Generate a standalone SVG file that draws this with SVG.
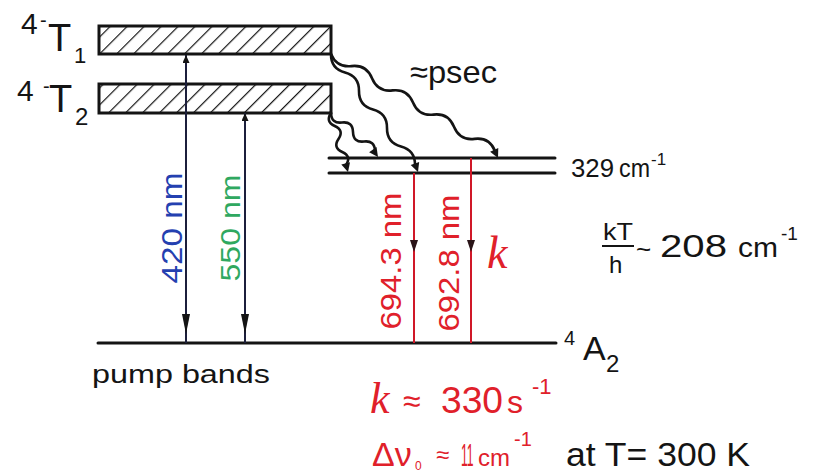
<svg xmlns="http://www.w3.org/2000/svg" xmlns:xlink="http://www.w3.org/1999/xlink" width="823" height="473" viewBox="0 0 823 473">
<style>
  .lvl{stroke:#141414;stroke-width:3;fill:none;stroke-linecap:round}
  .box{stroke:#141414;stroke-width:3;fill:url(#hatch)}
  .wave{stroke:#141414;stroke-width:2.6;fill:none;stroke-linecap:round}
  .pump{stroke:#1c1f3c;stroke-width:2;fill:none}
  .red{stroke:#d01828;stroke-width:2;fill:none}
  .t{font-family:"Liberation Sans","DejaVu Sans",sans-serif;fill:#141414}
  .r{fill:#e0202a}
  .b{fill:#2440b0}
  .g{fill:#2fa860}
  .k{font-family:"Liberation Serif","DejaVu Serif",serif;font-style:italic;fill:#e0202a}
</style>
<defs>
  <pattern id="hatch" patternUnits="userSpaceOnUse" width="12" height="12" patternTransform="rotate(45)">
    <line x1="0" y1="0" x2="0" y2="12" stroke="#141414" stroke-width="2.4"/>
  </pattern>
  <marker id="ahBig" viewBox="0 0 20 8" refX="20" refY="4" markerWidth="20" markerHeight="8" markerUnits="userSpaceOnUse" orient="auto">
    <path d="M0,0 L20,4 L0,8 Z" fill="#141414"/>
  </marker>
  <marker id="ahSmall" viewBox="0 0 8 7" refX="8" refY="3.5" markerWidth="8" markerHeight="7" markerUnits="userSpaceOnUse" orient="auto-start-reverse">
    <path d="M0,0 L8,3.5 L0,7 Z" fill="#141414"/>
  </marker>
  <marker id="ahRed" viewBox="0 0 12 8" refX="12" refY="4" markerWidth="12" markerHeight="8" markerUnits="userSpaceOnUse" orient="auto">
    <path d="M0,0 L12,4 L0,8 Z" fill="#2a1418"/>
  </marker>
  <path id="wh" d="M0,0 L-9,-4.5 L-9,4.5 Z" fill="#141414"/>
</defs>

<g id="level-4T1">
  <rect class="box" x="99" y="26" width="232" height="28"/>
  <text class="t" x="21" y="34" font-size="30">4</text>
  <text class="t" x="40" y="27" font-size="20">-</text>
  <text class="t" x="48" y="51" font-size="38">T</text>
  <text class="t" x="74" y="63" font-size="22">1</text>
</g>

<g id="level-4T2">
  <rect class="box" x="99" y="84" width="232" height="29"/>
  <text class="t" x="17" y="101" font-size="30">4</text>
  <text class="t" x="43" y="93" font-size="20">-</text>
  <text class="t" x="49" y="112" font-size="38">T</text>
  <text class="t" x="75" y="125" font-size="24">2</text>
</g>

<g id="level-2E">
  <line class="lvl" x1="329" y1="158" x2="555" y2="158"/>
  <line class="lvl" x1="329" y1="173" x2="555" y2="173"/>
  <text class="t" x="571" y="177" font-size="26" textLength="43" lengthAdjust="spacingAndGlyphs">329</text>
  <text class="t" x="619" y="177" font-size="25" textLength="31" lengthAdjust="spacingAndGlyphs">cm</text>
  <text class="t" x="651" y="165" font-size="17">-1</text>
</g>

<g id="level-4A2">
  <line class="lvl" x1="98" y1="343" x2="556" y2="343"/>
  <text class="t" x="564" y="345" font-size="20">4</text>
  <text class="t" x="583" y="360" font-size="34">A</text>
  <text class="t" x="606" y="372" font-size="24">2</text>
</g>

<g id="connectors">
  <path class="wave" d="M331,54 Q336.7,67.8 351.5,66.1 T372,78.3 T392.5,90.4 T413,102.5 T433.5,114.6 T454,126.8 T474.5,138.9 T495,151"/>
  <path class="wave" d="M331,54 Q330.8,68.7 345,72.5 T359,91 T373,109.5 T387,128 T401,146.5 T415,165"/>
  <path class="wave" d="M331,113 Q331.3,123.8 342,122.5 T353,132 T364,141.5 T375,151"/>
  <path class="wave" d="M331,113 Q325.2,121.7 334.75,126 T338.5,139 T342.25,152 T346,165"/>
  <use xlink:href="#wh" transform="translate(498,158) rotate(65)"/>
  <use xlink:href="#wh" transform="translate(418,172) rotate(70)"/>
  <use xlink:href="#wh" transform="translate(378,157) rotate(55)"/>
  <use xlink:href="#wh" transform="translate(348,172) rotate(75)"/>

  <path class="pump" d="M186,55 L186,334 L186,343" marker-start="url(#ahSmall)" marker-mid="url(#ahBig)"/>
  <path class="pump" d="M245,113 L245,334 L245,343" marker-start="url(#ahSmall)" marker-mid="url(#ahBig)"/>

  <path class="red" d="M414,173 L414,252 L414,343" marker-mid="url(#ahRed)"/>
  <path class="red" d="M471,158 L471,252 L471,343" marker-mid="url(#ahRed)"/>
</g>

<g id="labels">
  <text class="t b" transform="translate(182,228) rotate(-90)" text-anchor="middle" font-size="30" textLength="111" lengthAdjust="spacingAndGlyphs">420 nm</text>
  <text class="t g" transform="translate(240,228) rotate(-90)" text-anchor="middle" font-size="27" textLength="107" lengthAdjust="spacingAndGlyphs">550 nm</text>
  <text class="t r" transform="translate(401,261) rotate(-90)" text-anchor="middle" font-size="29" textLength="137" lengthAdjust="spacingAndGlyphs">694.3 nm</text>
  <text class="t r" transform="translate(459,263) rotate(-90)" text-anchor="middle" font-size="29" textLength="137" lengthAdjust="spacingAndGlyphs">692.8 nm</text>
  <text class="k" x="487" y="268" font-size="46">k</text>

  <text class="t" x="410" y="83" font-size="32" textLength="87" lengthAdjust="spacingAndGlyphs">≈psec</text>

  <text class="t" x="603" y="240" font-size="24" textLength="30" lengthAdjust="spacingAndGlyphs">kT</text>
  <line x1="602" y1="246" x2="634" y2="246" stroke="#141414" stroke-width="2"/>
  <text class="t" x="609" y="273" font-size="24">h</text>
  <text class="t" x="636" y="258" font-size="26">~</text>
  <text class="t" x="660" y="257" font-size="31" textLength="67" lengthAdjust="spacingAndGlyphs">208</text>
  <text class="t" x="738" y="257" font-size="27" textLength="40" lengthAdjust="spacingAndGlyphs">cm</text>
  <text class="t" x="781" y="240" font-size="19">-1</text>

  <text class="t" x="92" y="383" font-size="26" textLength="178" lengthAdjust="spacingAndGlyphs">pump bands</text>

  <text class="k" x="370" y="413" font-size="44">k</text>
  <text class="t r" x="403" y="412" font-size="32">≈</text>
  <text class="t r" x="441" y="413" font-size="36" textLength="62" lengthAdjust="spacingAndGlyphs">330</text>
  <text class="t r" x="507" y="413" font-size="32">s</text>
  <text class="t r" x="532" y="394" font-size="22">-1</text>

  <text class="t r" x="372" y="466" font-size="34">Δν</text>
  <text class="t r" x="415" y="470" font-size="12">0</text>
  <text class="t r" x="436" y="463" font-size="24">≈</text>
  <text class="t r" transform="translate(461,466) scale(0.38,1)" font-size="32">11</text>
  <text class="t r" x="478" y="466" font-size="24">cm</text>
  <text class="t r" x="514" y="446" font-size="20">-1</text>
  <text class="t" x="566" y="466" font-size="34" textLength="184" lengthAdjust="spacingAndGlyphs">at T= 300 K</text>
</g>
</svg>
